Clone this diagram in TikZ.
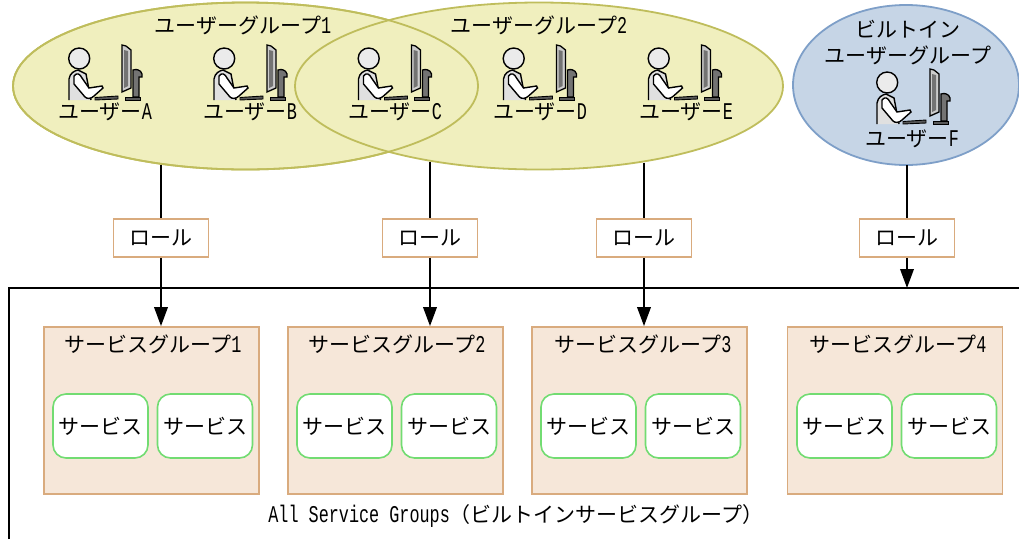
\documentclass[tikz,border=0pt]{standalone}
\usepackage{fontspec}
\setmainfont{Noto Sans CJK JP}
\newfontfamily\ltn[FakeStretch=0.7]{Liberation Mono}
\usetikzlibrary{arrows.meta,shapes.geometric}

\definecolor{groupyellow}{HTML}{F0EFBE}
\definecolor{edgeyellow}{HTML}{BFBD5C}
\definecolor{groupblue}{HTML}{C6D5E6}
\definecolor{edgeblue}{HTML}{7E9FC8}
\definecolor{boxpeach}{HTML}{F6E7D9}
\definecolor{edgepeach}{HTML}{D9AB7E}
\definecolor{edgegreen}{HTML}{72DC72}

\newcommand{\jptext}{\fontsize{21}{24}\selectfont}
\newcommand{\lat}[1]{{\ltn\fontsize{24}{24}\selectfont #1}}

\tikzset{
    usergroup/.style={ellipse, draw=edgeyellow, fill=groupyellow, line width=1.8pt, inner sep=0pt},
    rolebox/.style={draw=edgepeach, fill=white, line width=1.8pt, minimum width=95pt, minimum height=38pt, inner sep=0pt, font=\jptext},
    servicegroup/.style={draw=edgepeach, fill=boxpeach, line width=1.8pt, minimum width=215pt, minimum height=167pt, inner sep=0pt},
    servicebox/.style={draw=edgegreen, fill=white, line width=1.6pt, rounded corners=13pt, minimum width=95pt, minimum height=64pt, inner sep=0pt, font=\jptext},
    label/.style={inner sep=0pt, font=\jptext},
    link/.style={black, line width=2pt},
    linkarrow/.style={link, -{Triangle[length=19pt,width=13.5pt]}},
    usericon/.pic={
        % person
        \draw[fill=black!8, line width=1.4pt] (-25.8,58.5) circle (10.5);
        \draw[fill=black!12, line width=1.4pt] (-36,100) -- (-36,79) .. controls (-35,73) and (-31,71) .. (-27,70) -- (-19,74) -- (-14,100);
        \draw[fill=white, line width=1.4pt] (-31,76) .. controls (-28,72) and (-25,74) .. (-23,78) -- (-16,88) -- (-3,86) -- (-2,88) -- (-11,96) .. controls (-14,99) and (-18,99) .. (-20,97) -- (-31,84) -- cycle;
        % keyboard
        \draw[fill=black!65, line width=.9pt] (-10,97.5) -- (13,96) -- (13,99) -- (-10,100) -- cycle;
        % monitor
        \draw[fill=black!20, line width=1.3pt] (17,45) -- (21,46) -- (26,50) -- (26,88) -- (17,92) -- cycle;
        \draw[fill=black!55, draw=none] (19,50) -- (23,51) -- (23,86) -- (19,88) -- cycle;
        % stand
        \draw[fill=black!55, line width=1.3pt] (28,70) .. controls (35,68) and (38,73) .. (37,77) -- (34,77) -- (34,97) -- (28,97) -- (28,77) -- cycle;
        \draw[fill=black!65, line width=1pt] (20,97) -- (35,97) -- (35,100) -- (20,100) -- cycle;
    }
}

\begin{document}
\begin{tikzpicture}[x=1pt, y=-1pt]
    \useasboundingbox (0,0) rectangle (1019,539);

    % user groups
    \node[usergroup, minimum width=465pt, minimum height=167pt] (groupone) at (245.5,86) {};
    \node[usergroup, minimum width=488pt, minimum height=167pt] (grouptwo) at (539,86) {};
    \node[usergroup, fill=none, minimum width=465pt, minimum height=167pt] (grouponeedge) at (245.5,86) {};
    \node[usergroup, draw=edgeblue, fill=groupblue, minimum width=226pt, minimum height=160pt] (groupthree) at (906,85) {};

    \node[label] (grouponetitle) at (243,25) {ユーザーグループ\lat{1}};
    \node[label] (grouptwotitle) at (539,25) {ユーザーグループ\lat{2}};
    \node[label] (groupthreetitle) at (908,29) {ビルトイン};
    \node[label] (groupthreesub) at (908,55) {ユーザーグループ};

    % users
    \pic at (105,0) {usericon};
    \pic at (250,0) {usericon};
    \pic at (394.5,0) {usericon};
    \pic at (539.5,0) {usericon};
    \pic at (684.5,0) {usericon};
    \pic at (913,24) {usericon};

    \node[label] (usera) at (105,112) {ユーザー\lat{A}};
    \node[label] (userb) at (250,112) {ユーザー\lat{B}};
    \node[label] (userc) at (395,112) {ユーザー\lat{C}};
    \node[label] (userd) at (540,112) {ユーザー\lat{D}};
    \node[label] (usere) at (686,112) {ユーザー\lat{E}};
    \node[label] (userf) at (912,139) {ユーザー\lat{F}};

    % all service groups frame
    \coordinate (framebl) at (9,539);
    \coordinate (frametl) at (9,288);
    \coordinate (frametr) at (1019,288);
    \draw[link] (framebl) -- (frametl) -- (frametr);

    % service groups
    \node[servicegroup] (servicea) at (151.5,410.5) {};
    \node[servicegroup] (serviceb) at (395.5,410.5) {};
    \node[servicegroup] (servicec) at (639.5,410.5) {};
    \node[servicegroup] (serviced) at (895,410.5) {};

    \node[label] (serviceatitle) at (153,344) {サービスグループ\lat{1}};
    \node[label] (servicebtitle) at (397,344) {サービスグループ\lat{2}};
    \node[label] (servicectitle) at (643,344) {サービスグループ\lat{3}};
    \node[label] (servicedtitle) at (898,344) {サービスグループ\lat{4}};

    \node[servicebox] (sa1) at (100.5,426) {サービス};
    \node[servicebox] (sa2) at (205,426) {サービス};
    \node[servicebox] (sb1) at (344.5,426) {サービス};
    \node[servicebox] (sb2) at (449,426) {サービス};
    \node[servicebox] (sc1) at (588.5,426) {サービス};
    \node[servicebox] (sc2) at (693,426) {サービス};
    \node[servicebox] (sd1) at (844.5,426) {サービス};
    \node[servicebox] (sd2) at (949,426) {サービス};

    \node[label] (frametitle) at (516,516) {\lat{All Service Groups}（ビルトインサービスグループ）};

    % roles
    \node[rolebox] (rolea) at (161,238) {ロール};
    \node[rolebox] (roleb) at (430,238) {ロール};
    \node[rolebox] (rolec) at (644,238) {ロール};
    \node[rolebox] (roled) at (907,238) {ロール};

    \coordinate (starta) at (161,164.5);
    \coordinate (startb) at (430,161.5);
    \coordinate (startc) at (644,162.5);
    \coordinate (startd) at (907,165);
    \coordinate (endd) at (907,288);

    \draw[link] (starta) -- (rolea);
    \draw[link] (startb) -- (roleb);
    \draw[link] (startc) -- (rolec);
    \draw[link] (startd) -- (roled);

    \draw[linkarrow] (rolea) -- (rolea |- servicea.north);
    \draw[linkarrow] (roleb) -- (roleb |- serviceb.north);
    \draw[linkarrow] (rolec) -- (rolec |- servicec.north);
    \draw[linkarrow] (roled) -- (endd);
\end{tikzpicture}
\end{document}
